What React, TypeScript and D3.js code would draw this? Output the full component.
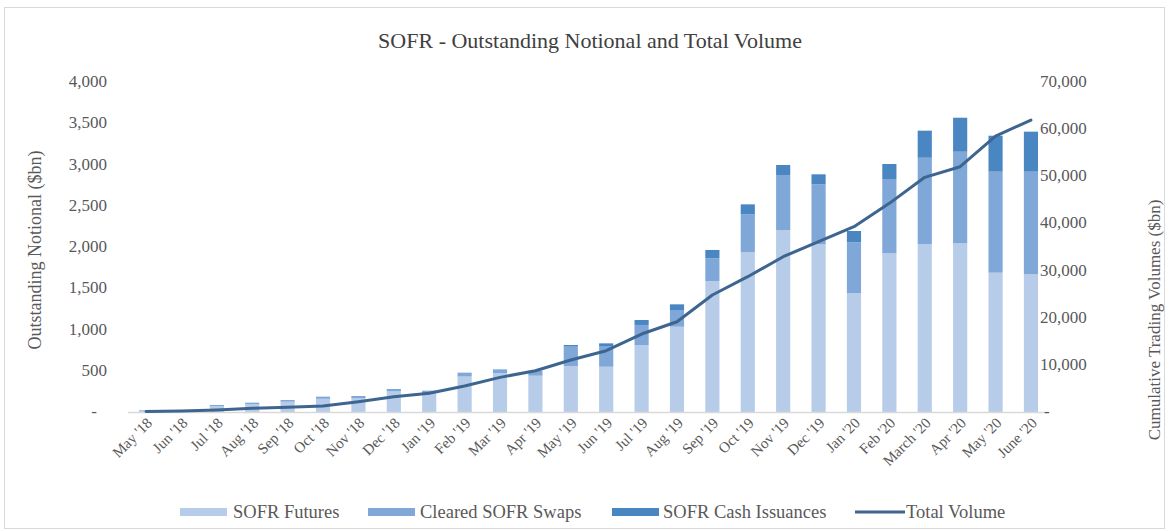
import * as d3 from "d3"

const MONTHS = [
  "May '18", "Jun '18", "Jul '18", "Aug '18", "Sep '18", "Oct '18", "Nov '18", "Dec '18",
  "Jan '19", "Feb '19", "Mar '19", "Apr '19", "May '19", "Jun '19", "Jul '19", "Aug '19",
  "Sep '19", "Oct '19", "Nov '19", "Dec '19", "Jan '20", "Feb '20", "March '20", "Apr '20",
  "May '20", "June '20",
]

// Outstanding notional ($bn), stacked
const FUTURES = [
  20, 8, 70, 95, 125, 160, 170, 250, 230, 430, 470, 440, 557, 549, 812, 1034,
  1588, 1936, 2206, 2033, 1439, 1923, 2036, 2044, 1689, 1669,
]
const SWAPS = [
  5, 2, 15, 18, 20, 26, 24, 29, 29, 47, 47, 61, 235, 243, 243, 202,
  275, 460, 667, 727, 618, 901, 1046, 1111, 1224, 1244,
]
const CASH = [
  0, 0, 0, 0, 0, 0, 0, 0, 0, 0, 0, 0, 20, 40, 60, 69,
  101, 121, 121, 121, 137, 182, 328, 412, 436, 485,
]
// Cumulative trading volume ($bn), right axis
const TOTAL_VOLUME = [
  100, 200, 420, 780, 1000, 1270, 2190, 3250, 3970, 5510, 7350, 8760, 11030, 13000, 16540, 19150,
  24820, 28700, 32940, 36120, 39300, 44260, 49780, 52030, 58540, 61930,
]

const LEFT_TICKS = [0, 500, 1000, 1500, 2000, 2500, 3000, 3500, 4000]
const RIGHT_TICKS = [0, 10000, 20000, 30000, 40000, 50000, 60000, 70000]

const SERIES = [
  { key: "futures", label: "SOFR Futures", values: FUTURES, color: "#b6cce9" },
  { key: "swaps", label: "Cleared SOFR Swaps", values: SWAPS, color: "#7fa7d7" },
  { key: "cash", label: "SOFR Cash Issuances", values: CASH, color: "#4a87c2" },
]
const LINE_COLOR = "#3d6590"

const W = 1169
const H = 531
const FONT = "'Liberation Serif', 'DejaVu Serif', serif"
const TEXT = "#595959"

export default function App() {
  const x = d3.scaleBand<string>().domain(MONTHS).range([128, 1049]).paddingInner(0.6).paddingOuter(0.31)
  const yL = d3.scaleLinear().domain([0, 4000]).range([412, 82])
  const yR = d3.scaleLinear().domain([0, 70000]).range([412, 82])
  const fmt = d3.format(",")
  const tickLabel = (v: number) => (v === 0 ? "-" : fmt(v))

  const rows = MONTHS.map((m, i) => ({
    month: m,
    futures: FUTURES[i],
    swaps: SWAPS[i],
    cash: CASH[i],
  }))
  const stacked = d3.stack<(typeof rows)[number]>().keys(SERIES.map((s) => s.key))(rows as any)

  const line = d3
    .line<number>()
    .x((_, i) => (x(MONTHS[i]) ?? 0) + x.bandwidth() / 2)
    .y((v) => yR(v))

  const legendItems = [
    { label: "SOFR Futures", color: SERIES[0].color, sx: 180, tx: 233, type: "rect" },
    { label: "Cleared SOFR Swaps", color: SERIES[1].color, sx: 368, tx: 420, type: "rect" },
    { label: "SOFR Cash Issuances", color: SERIES[2].color, sx: 612, tx: 663, type: "rect" },
    { label: "Total Volume", color: LINE_COLOR, sx: 855, tx: 906, type: "line" },
  ]

  return (
    <div style={{ position: "absolute", left: 0, top: 0 }}>
      <svg width={W} height={H} style={{ display: "block", fontFamily: FONT }}>
        <rect x={0} y={0} width={W} height={H} fill="#fff" />
        <rect x={4.5} y={7.5} width={1160} height={521} fill="none" stroke="#d9d9d9" />

        <text x={590} y={48} textAnchor="middle" fontSize={22} fill="#404040">
          SOFR - Outstanding Notional and Total Volume
        </text>

        {/* bars */}
        <g>
          {stacked.map((layer, li) => (
            <g key={SERIES[li].key} fill={SERIES[li].color}>
              {layer.map((d, i) => (
                <rect
                  key={i}
                  x={x(MONTHS[i])}
                  y={yL(d[1])}
                  width={x.bandwidth()}
                  height={Math.max(0, yL(d[0]) - yL(d[1]))}
                />
              ))}
            </g>
          ))}
        </g>

        {/* baseline */}
        <line x1={128} x2={1049} y1={412.5} y2={412.5} stroke="#d9d9d9" strokeWidth={1.5} />

        {/* total volume */}
        <path
          d={line(TOTAL_VOLUME) ?? undefined}
          fill="none"
          stroke={LINE_COLOR}
          strokeWidth={3}
          strokeLinejoin="round"
          strokeLinecap="round"
        />

        {/* left axis */}
        <g fontSize={17} fill={TEXT} textAnchor="end">
          {LEFT_TICKS.map((t) => (
            <text key={t} x={t === 0 ? 97 : 107} y={yL(t) + 5}>
              {tickLabel(t)}
            </text>
          ))}
        </g>
        <text
          transform={`translate(41,250) rotate(-90)`}
          textAnchor="middle"
          fontSize={18}
          fill={TEXT}
        >
          Outstanding Notional ($bn)
        </text>

        {/* right axis */}
        <g fontSize={17} fill={TEXT} textAnchor="start">
          {RIGHT_TICKS.map((t) => (
            <text key={t} x={t === 0 ? 1044 : 1040} y={yR(t) + 5}>
              {tickLabel(t)}
            </text>
          ))}
        </g>
        <text
          transform={`translate(1160,320) rotate(-90)`}
          textAnchor="middle"
          fontSize={17}
          fill={TEXT}
        >
          Cumulative Trading Volumes ($bn)
        </text>

        {/* x labels */}
        <g fontSize={15} fill={TEXT} textAnchor="end">
          {MONTHS.map((m) => (
            <text
              key={m}
              transform={`translate(${(x(m) ?? 0) + x.bandwidth() / 2 + 7},424) rotate(-45)`}
            >
              {m}
            </text>
          ))}
        </g>

        {/* legend */}
        <g fontSize={18.5} fill={TEXT}>
          {legendItems.map((it) => (
            <g key={it.label}>
              {it.type === "rect" ? (
                <rect x={it.sx} y={508} width={47} height={8} fill={it.color} />
              ) : (
                <line x1={it.sx} x2={it.sx + 50} y1={512} y2={512} stroke={it.color} strokeWidth={3} />
              )}
              <text x={it.tx} y={518}>
                {it.label}
              </text>
            </g>
          ))}
        </g>
      </svg>
    </div>
  )
}
